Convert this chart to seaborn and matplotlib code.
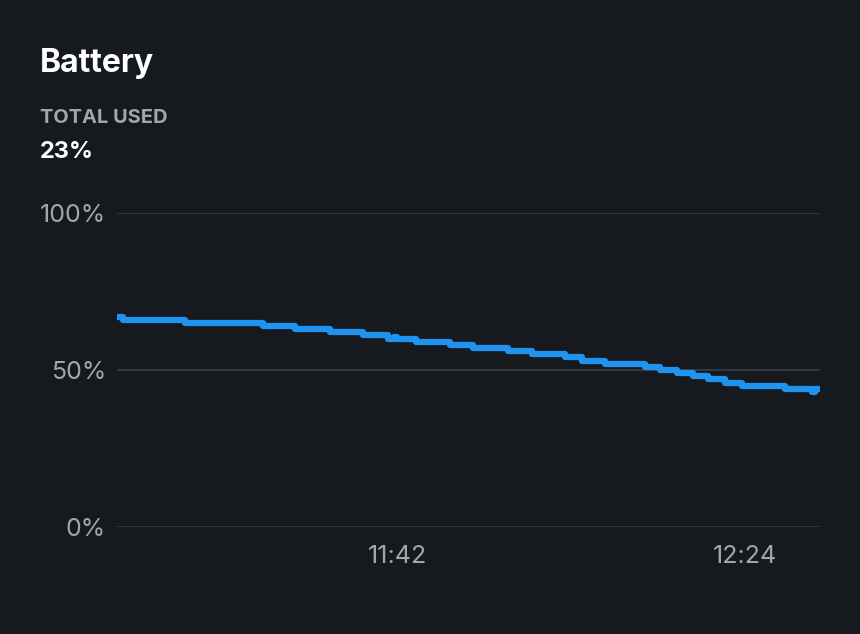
import matplotlib
matplotlib.use("Agg")
import matplotlib.pyplot as plt
import matplotlib.dates as mdates
import pandas as pd
import seaborn as sns

# battery level readings (time of change, percent)
times = ["11:08:00", "11:08:43", "11:16:13", "11:25:40", "11:29:32", "11:33:46",
         "11:37:46", "11:40:47", "11:41:30", "11:41:50", "11:44:11", "11:48:18",
         "11:51:05", "11:55:19", "11:58:13", "12:02:13", "12:04:16", "12:07:03",
         "12:11:54", "12:13:43", "12:15:46", "12:17:42", "12:19:31", "12:21:35",
         "12:23:38", "12:28:50", "12:32:07", "12:32:30", "12:33:05"]
levels = [67, 66, 65, 64, 63, 62,
          61, 60, 60.5, 60, 59, 58,
          57, 56, 55, 54, 53, 52,
          51, 50, 49, 48, 47, 46,
          45, 44, 43, 44, 44]

y_ticks = [0, 50, 100]
y_labels = ["0%", "50%", "100%"]
x_ticks = ["11:42", "12:24"]
total_used = "23%"

BG = "#161a1f"
GRID = "#3a3e44"
MUTED = "#a2a6ab"
LINE = "#1f93f0"

df = pd.DataFrame({
    "time": pd.to_datetime(["2024-01-01 " + t for t in times]),
    "level": levels,
})

sns.set_theme(style="dark")
plt.rcParams["font.family"] = ["Inter", "DejaVu Sans"]

fig = plt.figure(figsize=(8.6, 6.34), dpi=100, facecolor=BG)
ax = fig.add_axes([117 / 860, 1 - 527 / 634, (820 - 117) / 860, 314 / 634])
ax.set_facecolor(BG)

sns.lineplot(data=df, x="time", y="level", ax=ax, color=LINE, linewidth=4.5,
             drawstyle="steps-post", solid_capstyle="round", solid_joinstyle="round",
             zorder=3)

ax.set_ylim(0, 100)
ax.set_xlim(df["time"].iloc[0], df["time"].iloc[-1])
ax.set_yticks(y_ticks)
ax.set_yticklabels(y_labels)
ax.set_xticks(pd.to_datetime(["2024-01-01 " + t for t in x_ticks]))
ax.xaxis.set_major_formatter(mdates.DateFormatter("%H:%M"))

for y in y_ticks:
    ax.axhline(y, color=GRID, linewidth=1.2, zorder=1)
ax.grid(False)
for s in ax.spines.values():
    s.set_visible(False)
ax.tick_params(axis="y", length=0, pad=8, labelsize=18, labelcolor=MUTED)
ax.tick_params(axis="x", length=0, pad=13, labelsize=18, labelcolor=MUTED)
ax.set_xlabel("")
ax.set_ylabel("")

fig.text(40 / 860, 1 - 72 / 634, "Battery", color="white", fontsize=23,
         fontweight="bold", va="baseline", ha="left")
fig.text(40 / 860, 1 - 123 / 634, "TOTAL USED", color=MUTED, fontsize=14.4,
         fontweight="bold", va="baseline", ha="left")
fig.text(40 / 860, 1 - 158 / 634, total_used, color="white", fontsize=17,
         fontweight="bold", va="baseline", ha="left")

fig.savefig("out.png", dpi=100, facecolor=BG)
